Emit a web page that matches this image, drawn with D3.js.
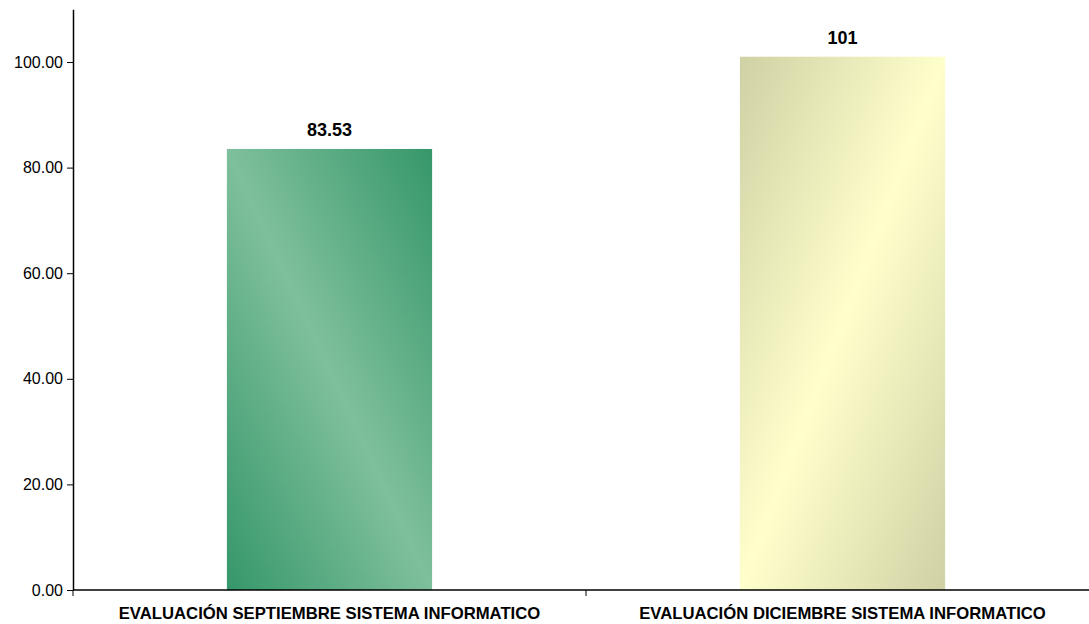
<!DOCTYPE html>
<html><head><meta charset="utf-8">
<script src="https://cdn.jsdelivr.net/npm/d3@7"></script>
<style>body{margin:0;background:#fff;}svg{display:block;font-family:"Liberation Sans",Arial,sans-serif;}</style>
</head><body>
<script>
const categories = ["EVALUACIÓN SEPTIEMBRE SISTEMA INFORMATICO", "EVALUACIÓN DICIEMBRE SISTEMA INFORMATICO"];
const values = [83.53, 101];
const valueLabels = ["83.53", "101"];
const yTicks = [0, 20, 40, 60, 80, 100];

const W = 1089, H = 624;
const svg = d3.select("body").append("svg").attr("width", W).attr("height", H);
const x0 = 73, y0 = 590;
const x = d3.scaleBand().domain(categories).range([x0, 1099]).paddingInner(0.6).paddingOuter(0.3);
const y = d3.scaleLinear().domain([0, 110]).range([y0, 9.2]);

const defs = svg.append("defs");
const g1 = defs.append("linearGradient").attr("id", "gGreen").attr("x1", 0).attr("y1", 1).attr("x2", 1).attr("y2", 0);
g1.append("stop").attr("offset", 0).attr("stop-color", "#36976a");
g1.append("stop").attr("offset", 0.5).attr("stop-color", "#7ebf9c");
g1.append("stop").attr("offset", 1).attr("stop-color", "#36976a");
const g2 = defs.append("linearGradient").attr("id", "gYellow").attr("x1", 0).attr("y1", 0).attr("x2", 1).attr("y2", 1);
g2.append("stop").attr("offset", 0).attr("stop-color", "#d0d1a4");
g2.append("stop").attr("offset", 0.5).attr("stop-color", "#ffffcc");
g2.append("stop").attr("offset", 1).attr("stop-color", "#d0d1a4");
const fills = ["url(#gGreen)", "url(#gYellow)"];

svg.selectAll("rect.bar").data(values).join("rect").attr("class", "bar")
  .attr("x", (d, i) => x(categories[i]))
  .attr("width", x.bandwidth())
  .attr("y", d => y(d))
  .attr("height", d => y0 - y(d))
  .attr("fill", (d, i) => fills[i]);

svg.selectAll("text.vl").data(values).join("text").attr("class", "vl")
  .attr("x", (d, i) => x(categories[i]) + x.bandwidth() / 2)
  .attr("y", d => y(d) - 13)
  .attr("text-anchor", "middle").attr("font-weight", "bold").attr("font-size", 18).attr("fill", "#000")
  .text((d, i) => valueLabels[i]);

// y axis
const ya = svg.append("g").attr("transform", `translate(${x0},0)`)
  .call(d3.axisLeft(y).tickValues(yTicks).tickSize(6).tickSizeOuter(0).tickFormat(d3.format(".2f")));
ya.select(".domain").attr("stroke", "#000").attr("stroke-width", 1.5);
ya.selectAll(".tick line").attr("stroke", "#000");
ya.selectAll(".tick text").attr("font-size", 16).attr("fill", "#000").attr("font-family", "Liberation Sans, Arial, sans-serif").attr("x", -10);

// x axis
const xa = svg.append("g").attr("transform", `translate(0,${y0})`);
xa.append("line").attr("x1", x0).attr("x2", W).attr("y1", 0).attr("y2", 0).attr("stroke", "#000").attr("stroke-width", 1.5);
const bounds = [x0, x0 + (1099 - x0) / 2];
xa.selectAll("line.tk").data(bounds).join("line").attr("class", "tk")
  .attr("x1", d => d).attr("x2", d => d).attr("y1", 0).attr("y2", 6).attr("stroke", "#000");
xa.selectAll("text.cl").data(categories).join("text").attr("class", "cl")
  .attr("x", d => x(d) + x.bandwidth() / 2)
  .attr("y", 29)
  .attr("text-anchor", "middle").attr("font-weight", "bold").attr("font-size", 16.7).attr("fill", "#000")
  .text(d => d);
</script>
</body></html>
